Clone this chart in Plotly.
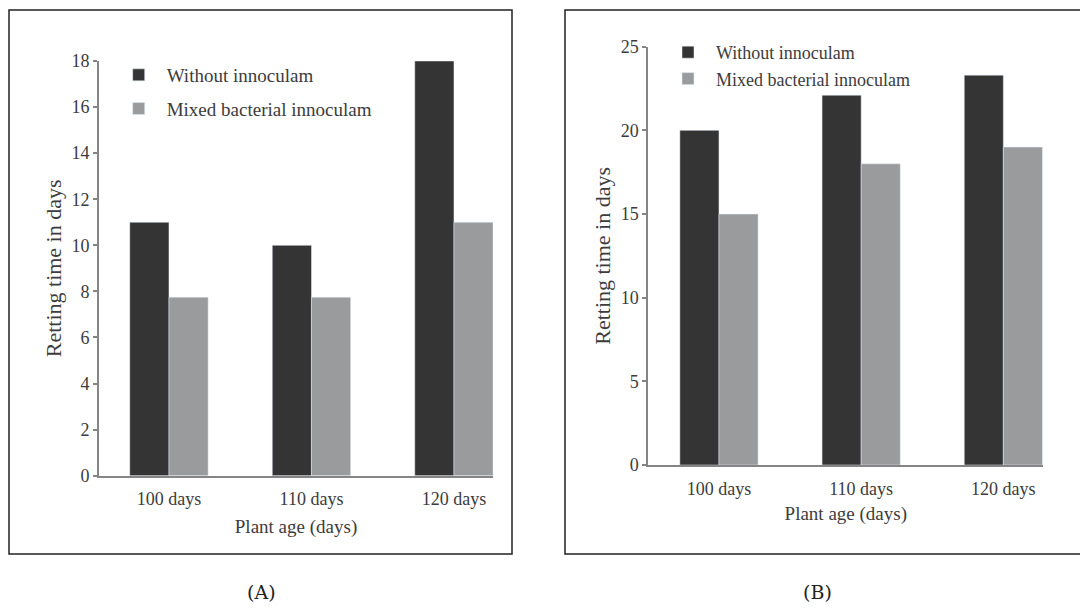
import plotly.graph_objects as go

# ---------------- data ----------------
categories = ["100 days", "110 days", "120 days"]
series_names = ["Without innoculam", "Mixed bacterial innoculam"]
a_without = [11.0, 10.0, 18.0]
a_mixed = [7.75, 7.75, 11.0]
b_without = [20.0, 22.1, 23.3]
b_mixed = [15.0, 18.0, 19.0]
a_ticks = [0, 2, 4, 6, 8, 10, 12, 14, 16, 18]
b_ticks = [0, 5, 10, 15, 20, 25]
panel_labels = ["(A)", "(B)"]

W, H = 1080, 608
DARK = "#353435"
GRAY = "#9a9b9d"
AX = "#858585"
TXT = "#3c3c3c"
SERIF = "Liberation Serif, Times New Roman, serif"


def px_x(p):
    return p / W


def px_y(p):
    return 1 - p / H


fig = go.Figure()

# Panel A
fig.add_trace(go.Bar(x=categories, y=a_without, name=series_names[0], marker_color=DARK,
                     xaxis="x", yaxis="y", legend="legend", legendgroup="a1"))
fig.add_trace(go.Bar(x=categories, y=a_mixed, name=series_names[1], marker_color=GRAY,
                     xaxis="x", yaxis="y", legend="legend", legendgroup="a2"))
# Panel B
fig.add_trace(go.Bar(x=categories, y=b_without, name=series_names[0], marker_color=DARK,
                     xaxis="x2", yaxis="y2", legend="legend2", legendgroup="b1"))
fig.add_trace(go.Bar(x=categories, y=b_mixed, name=series_names[1], marker_color=GRAY,
                     xaxis="x2", yaxis="y2", legend="legend2", legendgroup="b2"))

xcommon = dict(type="category", showline=True, linecolor=AX, linewidth=1.8, ticks="",
               showgrid=False, zeroline=False, automargin=False,
               tickfont=dict(family=SERIF, size=18, color=TXT),
               title_font=dict(family=SERIF, size=19, color=TXT), ticklabelstandoff=6)
ycommon = dict(showline=True, linecolor=AX, linewidth=1.8, ticks="outside", ticklen=4,
               tickcolor=AX, tickwidth=1.5, showgrid=False, zeroline=False, automargin=False,
               tickfont=dict(family=SERIF, size=18, color=TXT),
               title_font=dict(family=SERIF, size=22, color=TXT), ticklabelstandoff=0)

fig.update_layout(
    width=W, height=H,
    margin=dict(l=0, r=0, t=0, b=0, autoexpand=False),
    paper_bgcolor="white", plot_bgcolor="white",
    barmode="group", bargap=0.45, bargroupgap=0,
    xaxis=dict(xcommon, domain=[px_x(99), px_x(493)], range=[-0.491, 2.274], anchor="y",
               title=dict(text="Plant age (days)", standoff=11)),
    yaxis=dict(ycommon, domain=[px_y(475.7), px_y(61)], range=[0, 18], tickvals=a_ticks,
               anchor="x", title=dict(text="Retting time in days", standoff=4)),
    xaxis2=dict(xcommon, domain=[px_x(648.3), px_x(1043.3)], range=[-0.497, 2.281], anchor="y2",
                title=dict(text="Plant age (days)", standoff=9)),
    yaxis2=dict(ycommon, domain=[px_y(465), px_y(46.7)], range=[0, 25], tickvals=b_ticks,
                anchor="x2", title=dict(text="Retting time in days", standoff=4)),
    legend=dict(x=px_x(110.7), y=px_y(56), xanchor="left", yanchor="top",
                bgcolor="rgba(0,0,0,0)", itemwidth=46, tracegroupgap=6,
                font=dict(family=SERIF, size=19, color=TXT)),
    legend2=dict(x=px_x(660), y=px_y(34), xanchor="left", yanchor="top",
                 bgcolor="rgba(0,0,0,0)", itemwidth=46, tracegroupgap=0,
                 font=dict(family=SERIF, size=18, color=TXT)),
    showlegend=True,
)

# panel frames
fig.add_shape(type="rect", xref="paper", yref="paper",
              x0=px_x(9), x1=px_x(512), y0=px_y(554), y1=px_y(10),
              line=dict(color="#222", width=1.5), fillcolor="rgba(0,0,0,0)", layer="below")
fig.add_shape(type="rect", xref="paper", yref="paper",
              x0=px_x(565), x1=px_x(1090), y0=px_y(554), y1=px_y(10),
              line=dict(color="#222", width=1.5), fillcolor="rgba(0,0,0,0)", layer="below")

# panel labels
for lab, cx in zip(panel_labels, [261, 817.5]):
    fig.add_annotation(text=lab, xref="paper", yref="paper", x=px_x(cx), y=px_y(592),
                       showarrow=False, xanchor="center", yanchor="middle",
                       font=dict(family="DejaVu Serif", size=19, color="#222"))

fig.write_html("out.html", config={"displayModeBar": False},
               post_script="document.body.style.margin='0';")
